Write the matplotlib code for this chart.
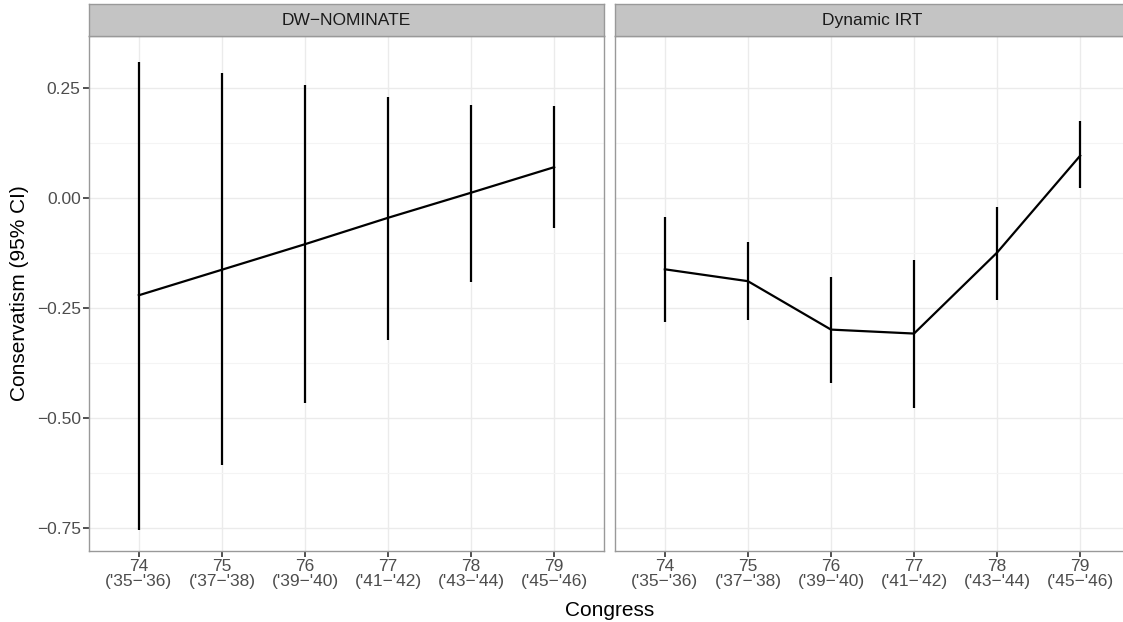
import matplotlib.pyplot as plt
from matplotlib.ticker import FixedLocator

plt.rcParams['font.family'] = ['Liberation Sans', 'DejaVu Sans']

congress = [74, 75, 76, 77, 78, 79]
tick_labels = ["74\n('35\u2212'36)", "75\n('37\u2212'38)", "76\n('39\u2212'40)",
               "77\n('41\u2212'42)", "78\n('43\u2212'44)", "79\n('45\u2212'46)"]
panels = ['DW\u2212NOMINATE', 'Dynamic IRT']

# DW-NOMINATE estimates and 95% CI
dw_est = [-0.221, -0.163, -0.105, -0.045, 0.012, 0.070]
dw_low = [-0.754, -0.607, -0.465, -0.322, -0.190, -0.068]
dw_high = [0.309, 0.283, 0.256, 0.230, 0.212, 0.208]

# Dynamic IRT estimates and 95% CI
irt_est = [-0.162, -0.189, -0.299, -0.308, -0.124, 0.096]
irt_low = [-0.281, -0.278, -0.420, -0.476, -0.232, 0.022]
irt_high = [-0.043, -0.100, -0.180, -0.142, -0.020, 0.175]

W, H = 1123, 622
fig = plt.figure(figsize=(W / 100, H / 100), dpi=100)
fig.patch.set_facecolor('white')

top_px, bot_px, strip_top = 36, 551, 4
lefts = [89, 615]
width_px = 515

data = [(dw_est, dw_low, dw_high), (irt_est, irt_low, irt_high)]

for i in range(2):
    est, low, high = data[i]
    ax = fig.add_axes([lefts[i] / W, 1 - bot_px / H, width_px / W, (bot_px - top_px) / H])
    ax.set_xlim(73.4, 79.6)
    ax.set_ylim(-0.802, 0.368)
    ax.set_xticks(congress)
    ax.set_xticklabels(tick_labels, fontsize=12.5, color='#4D4D4D', linespacing=1.0)
    ax.set_yticks([-0.75, -0.5, -0.25, 0.0, 0.25])
    ax.yaxis.set_minor_locator(FixedLocator([-0.625, -0.375, -0.125, 0.125]))
    ax.set_yticklabels(['\u22120.75', '\u22120.50', '\u22120.25', '0.00', '0.25'],
                       fontsize=12.5, color='#4D4D4D')
    ax.grid(which='major', color='#EBEBEB', lw=1.0)
    ax.grid(which='minor', axis='y', color='#F4F4F4', lw=0.8)
    ax.set_axisbelow(True)
    ax.tick_params(which='major', length=4, width=1.2, color='#333333', pad=2)
    ax.tick_params(which='minor', length=0)
    if i == 1:
        ax.tick_params(axis='y', left=False, labelleft=False)
    for s in ax.spines.values():
        s.set_color('#999999')
        s.set_linewidth(1.0)

    ax.vlines(congress, low, high, color='black', lw=1.6)
    ax.plot(congress, est, color='black', lw=1.6)

    # facet strip
    sax = fig.add_axes([lefts[i] / W, 1 - top_px / H, width_px / W, (top_px - strip_top) / H])
    sax.set_facecolor('#C4C4C4')
    sax.set_xticks([])
    sax.set_yticks([])
    for s in sax.spines.values():
        s.set_color('#999999')
        s.set_linewidth(1.0)
    sax.text(0.5, 0.48, panels[i], ha='center', va='center', fontsize=12.5,
             color='#1A1A1A', transform=sax.transAxes)

fig.text((89 + 1130) / 2 / W, 1 - 610 / H, 'Congress', ha='center', va='center', fontsize=15)
fig.text(20 / W, 1 - 293 / H, 'Conservatism (95% CI)', ha='center', va='center',
         rotation=90, fontsize=15)

fig.savefig('out.png', dpi=100)
